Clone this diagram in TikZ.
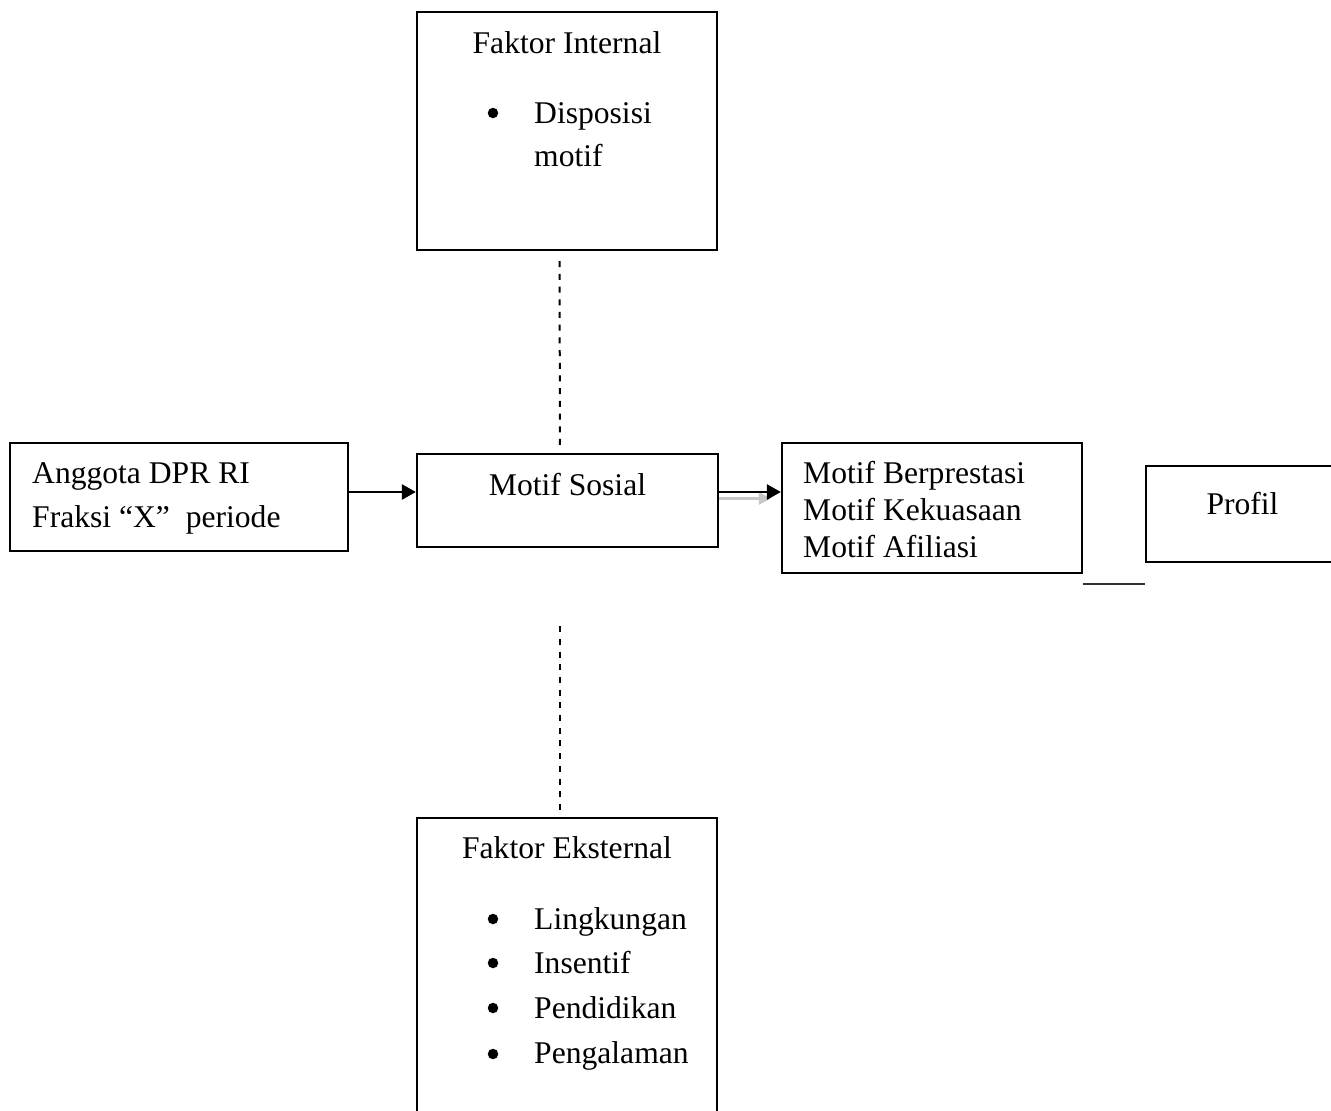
\documentclass[tikz,border=0pt]{standalone}
\usepackage{fontspec}
\setmainfont{Liberation Serif}
\usetikzlibrary{arrows.meta}
\begin{document}
\begin{tikzpicture}[x=1pt,y=-1pt,
  box/.style={draw=black,line width=2.3pt,rectangle,inner sep=0pt},
  txt/.style={inner sep=0pt,font=\fontsize{31.6}{38}\selectfont},
  bul/.style={circle,fill=black,inner sep=0pt,minimum size=10.5pt},
  arr/.style={line width=2.5pt,-{Triangle[length=14pt,width=15pt]}},
  shadowarr/.style={line width=2.5pt,draw=black!22,-{Triangle[length=12pt,width=12pt,fill=black!22]}},
  dashline/.style={line width=2pt,dash pattern=on 6pt off 6.7pt}]
\useasboundingbox (0,0) rectangle (1331,1111);
\clip (0,0) rectangle (1331,1111);
% boxes
\node[box,minimum width=300pt,minimum height=238pt] (fi) at (567,131) {};
\node[box,minimum width=338pt,minimum height=108pt] (ad) at (179,497) {};
\node[box,minimum width=301pt,minimum height=93pt] (ms) at (567.5,500.5) {};
\node[box,minimum width=300pt,minimum height=130pt] (mb) at (932,508) {};
\node[box,minimum width=199pt,minimum height=96pt] (pr) at (1245.5,514) {};
\node[box,minimum width=300pt,minimum height=307pt] (fe) at (567,971.5) {};
% texts
\node[txt,anchor=base] (fit) at (567,53) {Faktor Internal};
\node[bul] (fib1) at (493,113) {};
\node[txt,anchor=base west] (fi1) at (534,123) {Disposisi};
\node[txt,anchor=base west] (fi2) at (534,166) {motif};
\node[txt,anchor=base west] (ad1) at (32,483) {Anggota DPR RI};
\node[txt,anchor=base west] (ad2) at (32,527) {Fraksi “X”\ \ periode};
\node[txt,anchor=base] (mst) at (567.5,495) {Motif Sosial};
\node[txt,anchor=base west] (mb1) at (803,483) {Motif Berprestasi};
\node[txt,anchor=base west] (mb2) at (803,520) {Motif Kekuasaan};
\node[txt,anchor=base west] (mb3) at (803,557) {Motif Afiliasi};
\node[txt,anchor=base] (prt) at (1242.5,514) {Profil};
\node[txt,anchor=base] (fet) at (567,858) {Faktor Eksternal};
\node[bul] (feb1) at (493,919) {};
\node[bul] (feb2) at (493,963) {};
\node[bul] (feb3) at (493,1008) {};
\node[bul] (feb4) at (493,1054) {};
\node[txt,anchor=base west] (fe1) at (534,929) {Lingkungan};
\node[txt,anchor=base west] (fe2) at (534,973) {Insentif};
\node[txt,anchor=base west] (fe3) at (534,1018) {Pendidikan};
\node[txt,anchor=base west] (fe4) at (534,1063) {Pengalaman};
% connectors
\draw[dashline] ([xshift=-7.5pt,yshift=-10pt]fi.south) -- ([xshift=-7.5pt,yshift=4pt]ms.north);
\draw[dashline] ([xshift=-8pt,yshift=-78pt]ms.south) -- ([xshift=-7.5pt,yshift=6pt]fe.north);
\draw[arr] ([yshift=5pt]ad.east) -- ([yshift=5pt]ad.east -| ms.west);
\draw[shadowarr] ([yshift=2pt]ms.east) -- ([xshift=-10pt,yshift=2pt]ms.east -| mb.west);
\draw[arr] ([yshift=8.5pt]ms.east) -- ([yshift=8.5pt]ms.east -| mb.west);
\draw[line width=2.3pt,draw=black!80] ([yshift=-10pt]mb.south east) -- ([yshift=-10pt]mb.south east -| pr.west);
\end{tikzpicture}
\end{document}
